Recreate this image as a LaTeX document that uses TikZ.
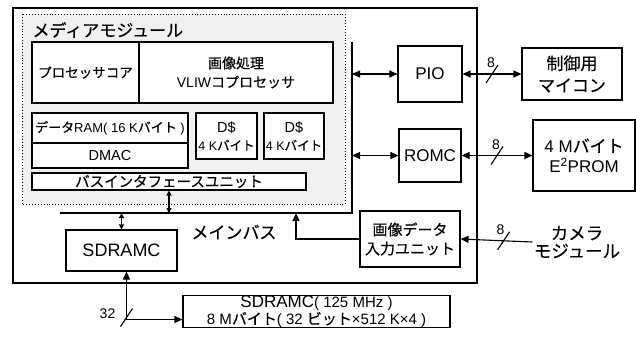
\documentclass[tikz,border=0pt]{standalone}
\usepackage{fontspec}
\setmainfont{Liberation Sans}
\newfontfamily\jpfont[FakeBold=0.4]{Noto Sans CJK JP}
\newcommand{\jp}[1]{{\jpfont #1}}
\newcommand{\fsL}{\fontsize{17}{20}\selectfont}
\newcommand{\fsM}{\fontsize{14.5}{18}\selectfont}
\newcommand{\fsS}{\fontsize{13}{16}\selectfont}
\usetikzlibrary{arrows.meta,calc}

\begin{document}
\begin{tikzpicture}[x=1pt,y=1pt,>={Triangle[length=8pt,width=7pt]},line width=1.1pt]
    \tikzset{
      box/.style={draw, fill=white, inner sep=0pt, align=center, font=\fsM},
      bigbox/.style={box, font=\fsL},
      bus/.style={line width=1.8pt},
      small/.style={>={Triangle[length=5pt,width=5pt]}},
      note/.style={font=\fontsize{14}{16}\selectfont, inner sep=0pt}
    }
    \useasboundingbox (0,0) rectangle (636,-349);
    % Chip frame and media module
    \draw[line width=2pt] (13,-8) rectangle (477,-283);
    \draw[dotted, fill=gray!12, line width=0.9pt] (22,-14) rectangle (345,-204);
    \node[anchor=west, font=\fsL, inner sep=0pt] (media) at (32,-30) {\jp{メディアモジュール}};
    \node[box, minimum width=107, minimum height=61, font=\fontsize{13.5}{16}\selectfont] (core) at (85.5,-72.5) {\jp{プロセッサコア}};
    \node[box, minimum width=194, minimum height=61, font=\fontsize{14}{19}\selectfont] (vliw) at (236,-72.5) {\jp{画像処理}\\VLIW\jp{コプロセッサ}};
    \node[box, minimum width=156, minimum height=30, font=\fsS] (ram) at (110,-128) {\jp{データ}RAM( 16 K\jp{バイト} )};
    \node[box, minimum width=156, minimum height=25] (dmac) at (110,-155.5) {DMAC};
    \node[box, minimum width=61, minimum height=46, font=\fontsize{12.5}{18}\selectfont] (dc1) at (226.5,-136) {\fsM D\$\\4 K\jp{バイト}};
    \node[box, minimum width=60, minimum height=46, font=\fontsize{12.5}{18}\selectfont] (dc2) at (294,-136) {\fsM D\$\\4 K\jp{バイト}};
    \node[box, minimum width=274, minimum height=17] (biu) at (169,-181.5) {\jp{バスインタフェースユニット}};
    % Main bus
    \coordinate (busL) at (60,-213);
    \coordinate (busR) at (352,-213);
    \coordinate (busT) at (352,-42);
    \coordinate (busin) at (296,-213);
    \draw[bus] (busL) -- (busR) -- (busT);
    \node[font=\fsL, inner sep=0pt] (busname) at (234,-232) {\jp{メインバス}};
    \node[bigbox, minimum width=111, minimum height=41, font=\fontsize{18}{20}\selectfont] (sdramc) at (121.5,-250.5) {SDRAMC};
    % Peripherals
    \node[bigbox, minimum width=64, minimum height=56] (pio) at (430,-74) {PIO};
    \node[bigbox, minimum width=100, minimum height=52, font=\fontsize{17}{22}\selectfont] (mcu) at (572,-74) {\jp{制御用}\\\jp{マイコン}};
    \node[bigbox, minimum width=62, minimum height=53] (romc) at (430,-155.5) {ROMC};
    \node[bigbox, minimum width=102, minimum height=71] (eprom) at (584,-155.5) {4 M\jp{バイト}\\E\textsuperscript{2}PROM};
    \node[box, minimum width=100, minimum height=56, font=\fontsize{15}{19}\selectfont] (imgin) at (410,-239) {\jp{画像データ}\\\jp{入力ユニット}};
    \node[font=\fontsize{17.5}{18}\selectfont, align=center, inner sep=1pt] (cam) at (577,-242) {\jp{カメラ}\\\jp{モジュール}};
    \node[box, minimum width=267, minimum height=31, font=\fontsize{15}{17}\selectfont] (sdram) at (316.5,-311.5) {{\fontsize{17}{17}\selectfont SDRAMC}( 125 MHz )\\8 M\jp{バイト}( 32 \jp{ビット}×512 K×4 )};

    % Arrows
    \draw[small, <->] (biu.south) -- (biu.south |- busL);
    \draw[small, <->] (sdramc.north |- busL) -- (sdramc.north);
    \draw[<->] (pio.west -| busT) -- (pio.west);
    \draw[<->] (pio.east) -- (mcu.west);
    \draw[<->] (romc.west -| busT) -- (romc.west);
    \draw[<->] (romc.east) -- (eprom.west);
    \draw[->] (imgin.west) -| (busin);
    \draw[->] (cam.west) -- (imgin.east);
    \draw[<->] ([xshift=5pt]sdramc.south) |- ([yshift=-8pt]sdram.west);

    % Bus widths
    \coordinate (w1) at ($(pio.east)!.5!(mcu.west)$);
    \coordinate (w2) at ($(romc.east)!.5!(eprom.west)$);
    \coordinate (w3) at ($(imgin.east)!.6!(cam.west)$);
    \coordinate (w4) at ($(sdramc.south)+(5,-46)$);
    \draw (w1) ++(-6,-9) -- ++(12,18);
    \draw (w2) ++(-6,-9) -- ++(12,18);
    \draw (w3) ++(-6,-9) -- ++(12,18);
    \draw (w4) ++(-6,-9) -- ++(12,18);
    \node[note] (n1) at ($(w1)+(-1,11)$) {8};
    \node[note] (n2) at ($(w2)+(-1,11)$) {8};
    \node[note] (n3) at ($(w3)+(-3,11)$) {8};
    \node[note] (n4) at ($(w4)+(-19,4)$) {32};
\end{tikzpicture}
\end{document}
